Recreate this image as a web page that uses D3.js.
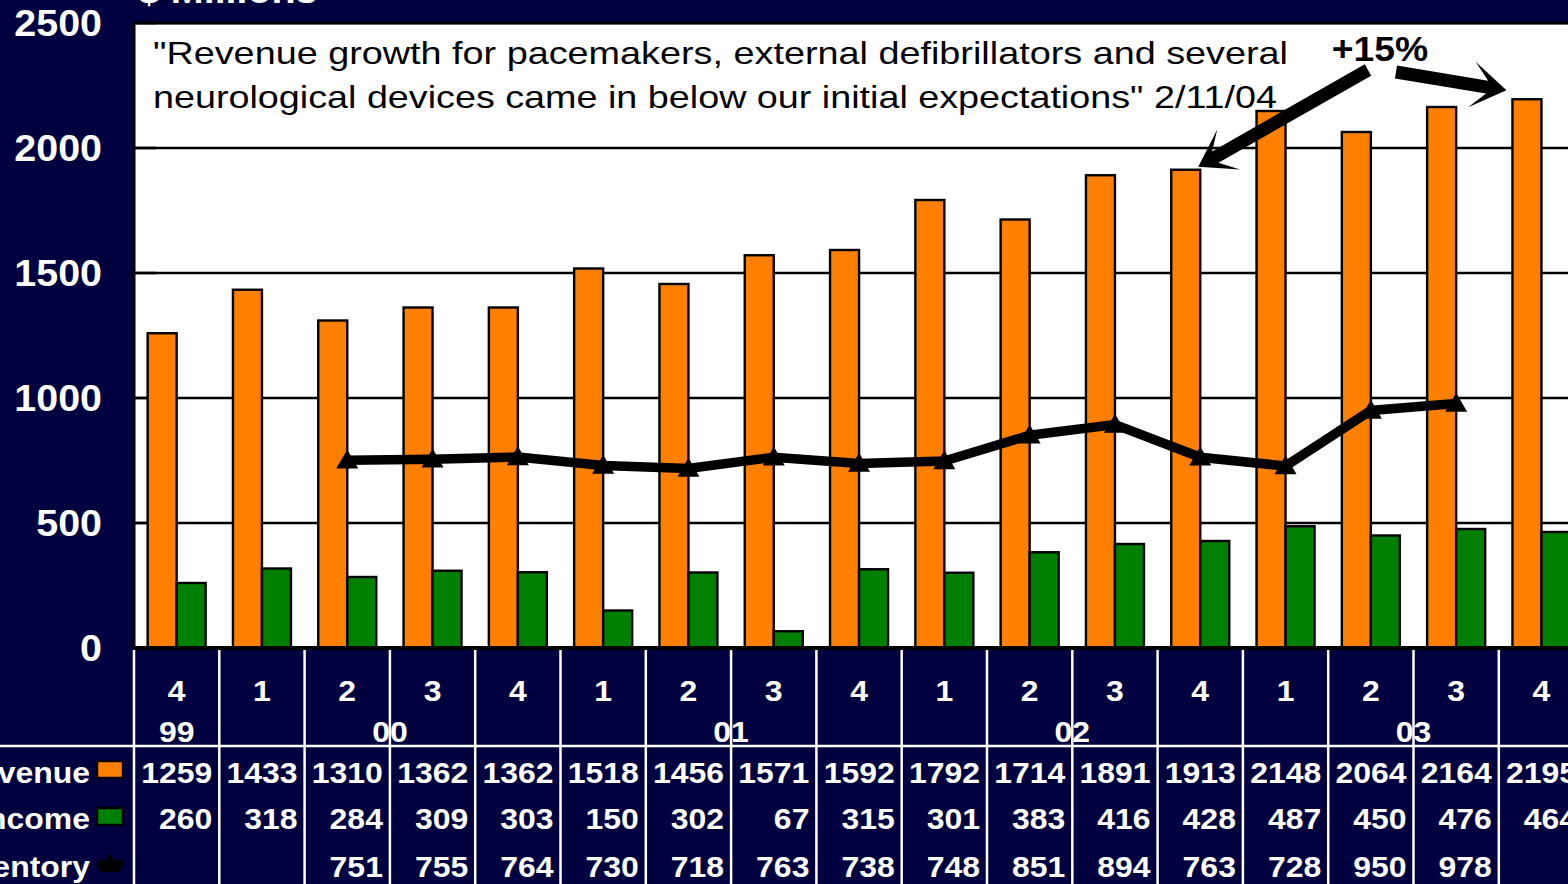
<!DOCTYPE html>
<html>
<head>
<meta charset="utf-8">
<script src="https://cdn.jsdelivr.net/npm/d3@7"></script>
<style>
  html, body { margin: 0; padding: 0; background: #000040; overflow: hidden; }
  svg { display: block; font-family: "Liberation Sans", Arial, sans-serif; }
</style>
</head>
<body>
<div id="chart"></div>
<script>
// quarters (category axis) and year groups
var quarters = ["4", "1", "2", "3", "4", "1", "2", "3", "4", "1", "2", "3", "4", "1", "2", "3", "4"];
var years = [
    {label: "99", first: 0, last: 0},
    {label: "00", first: 1, last: 4},
    {label: "01", first: 5, last: 8},
    {label: "02", first: 9, last: 12},
    {label: "03", first: 13, last: 16}
];
// series values ($ millions)
var revenue = [1259, 1433, 1310, 1362, 1362, 1518, 1456, 1571, 1592, 1792, 1714, 1891, 1913, 2148, 2064, 2164, 2195];
var income = [260, 318, 284, 309, 303, 150, 302, 67, 315, 301, 383, 416, 428, 487, 450, 476, 464];
var inventory = [null, null, 751, 755, 764, 730, 718, 763, 738, 748, 851, 894, 763, 728, 950, 978, null];
var yTicks = [0, 500, 1000, 1500, 2000, 2500];
var seriesNames = ["Revenue", "Net Income", "Inventory"];

var quoteLines = [
    "\"Revenue growth for pacemakers, external defibrillators and several",
    "neurological devices came in below our initial expectations\" 2/11/04"
];
var quoteWidths = [1135, 1124];

var width = 1568, height = 884;
var navy = "#000040", orange = "#ff8000", green = "#008000";
var stretch = 1.065; // the original lettering is a little wider than Arial

var svg = d3.select("#chart").append("svg")
    .attr("width", width)
    .attr("height", height);

svg.append("rect").attr("width", width).attr("height", height).attr("fill", navy);

// white, bold, slightly widened label at (x, y)
function label(sel, x, y, size) {
    return sel.attr("transform", function(d, i) {
            var xx = typeof x === "function" ? x(d, i) : x;
            var yy = typeof y === "function" ? y(d, i) : y;
            return `translate(${xx},${yy}) scale(${stretch},1)`;
        })
        .attr("fill", "white").attr("font-weight", "bold").attr("font-size", size);
}

// plot geometry
var plotLeft = 134, step = 85.3, plotTop = 23, plotBottom = 648;
var idx = d3.range(quarters.length);

// one cell per quarter (used by the table), bars inside it
var cell = d3.scaleBand().domain(idx).range([plotLeft, plotLeft + step * idx.length]);
var xBars = d3.scaleBand().domain(idx).range(cell.range()).paddingInner(0.32).paddingOuter(0.16);
var xSub = d3.scaleBand().domain(["rev", "inc"]).range([0, xBars.bandwidth()]);
var y = d3.scaleLinear().domain([0, 2500]).range([plotBottom, plotTop]);

// white plot area
svg.append("rect")
    .attr("x", plotLeft).attr("y", plotTop)
    .attr("width", width - plotLeft).attr("height", plotBottom - plotTop)
    .attr("fill", "white");

// horizontal grid lines
svg.selectAll("line.grid").data(yTicks.slice(1)).enter()
    .append("line")
    .attr("class", "grid")
    .attr("x1", plotLeft).attr("x2", width)
    .attr("y1", function(d) { return y(d); })
    .attr("y2", function(d) { return y(d); })
    .attr("stroke", "black")
    .attr("stroke-width", 2.5);

// short inward ticks on the value axis
svg.selectAll("line.tick").data(yTicks).enter()
    .append("line")
    .attr("x1", plotLeft).attr("x2", plotLeft + 22)
    .attr("y1", function(d) { return y(d); })
    .attr("y2", function(d) { return y(d); })
    .attr("stroke", "black")
    .attr("stroke-width", 2.5);

// bars
svg.selectAll("rect.rev").data(idx).enter()
    .append("rect")
    .attr("x", function(i) { return xBars(i) + xSub("rev"); })
    .attr("y", function(i) { return y(revenue[i]); })
    .attr("width", xSub.bandwidth())
    .attr("height", function(i) { return y(0) - y(revenue[i]); })
    .attr("fill", orange).attr("stroke", "black").attr("stroke-width", 2.4);

svg.selectAll("rect.inc").data(idx).enter()
    .append("rect")
    .attr("x", function(i) { return xBars(i) + xSub("inc"); })
    .attr("y", function(i) { return y(income[i]); })
    .attr("width", xSub.bandwidth())
    .attr("height", function(i) { return y(0) - y(income[i]); })
    .attr("fill", green).attr("stroke", "black").attr("stroke-width", 2.4);

// inventory line with triangle markers
var cx = function(i) { return cell(i) + cell.bandwidth() / 2; };
var line = d3.line()
    .defined(function(i) { return inventory[i] != null; })
    .x(cx)
    .y(function(i) { return y(inventory[i]); });
svg.append("path")
    .attr("d", line(idx))
    .attr("fill", "none").attr("stroke", "black")
    .attr("stroke-width", 9.5).attr("stroke-linejoin", "miter");

var tri = d3.symbol().type(d3.symbolTriangle).size(210);
svg.selectAll("path.marker").data(idx.filter(function(i) { return inventory[i] != null; })).enter()
    .append("path")
    .attr("d", tri)
    .attr("transform", function(i) { return `translate(${cx(i)},${y(inventory[i]) + 2})`; })
    .attr("fill", "black");

// axis lines
svg.append("line").attr("x1", plotLeft).attr("x2", plotLeft)
    .attr("y1", plotTop - 1).attr("y2", plotBottom)
    .attr("stroke", "black").attr("stroke-width", 3);
svg.append("line").attr("x1", plotLeft).attr("x2", width)
    .attr("y1", plotTop).attr("y2", plotTop)
    .attr("stroke", "black").attr("stroke-width", 3);
svg.append("line").attr("x1", plotLeft).attr("x2", width)
    .attr("y1", plotBottom).attr("y2", plotBottom)
    .attr("stroke", "black").attr("stroke-width", 4);

// y tick labels
label(svg.selectAll("text.ytick").data(yTicks).enter().append("text"),
        102, function(d) { return y(d) + 13; }, 37)
    .attr("text-anchor", "end")
    .text(function(d) { return d; });

// units title, mostly above the top edge
label(svg.append("text"), 138, 3, 37).text("$ Millions");

// quote
svg.selectAll("text.quote").data(quoteLines).enter()
    .append("text")
    .attr("x", 153)
    .attr("y", function(d, i) { return 64 + i * 44; })
    .attr("textLength", function(d, i) { return quoteWidths[i]; })
    .attr("lengthAdjust", "spacingAndGlyphs")
    .attr("fill", "black").attr("font-size", 31.5)
    .text(function(d) { return d; });

// +15% annotation with two arrows to the compared bars
svg.append("text")
    .attr("transform", `translate(1380,61) scale(${stretch},1)`)
    .attr("text-anchor", "middle")
    .attr("fill", "black").attr("font-weight", "bold").attr("font-size", 35)
    .text("+15%");

function arrowPath(x0, y0, x1, y1, shaft, headLen, headW) {
    var dx = x1 - x0, dy = y1 - y0, len = Math.sqrt(dx * dx + dy * dy);
    var ux = dx / len, uy = dy / len, nx = -uy, ny = ux;
    var pt = function(a, b) { return [x0 + ux * a + nx * b, y0 + uy * a + ny * b]; };
    var pts = [
        pt(0, -shaft / 2), pt(len - headLen * 0.7, -shaft / 2),
        pt(len - headLen * 1.25, -headW / 2), pt(len, 0),
        pt(len - headLen * 1.25, headW / 2), pt(len - headLen * 0.7, shaft / 2),
        pt(0, shaft / 2)
    ];
    return "M" + pts.map(function(p) { return p.join(","); }).join("L") + "Z";
}
var a1End = [xBars(12) + xSub("inc") - 2, y(revenue[12]) - 3];
var a2End = [xBars(16) - 6, y(revenue[16]) - 9];
svg.append("path").attr("d", arrowPath(1368, 70, a1End[0], a1End[1], 13, 28, 46)).attr("fill", "black");
svg.append("path").attr("d", arrowPath(1396, 72, a2End[0], a2End[1], 13, 28, 46)).attr("fill", "black");

// ---- data table ----
var headerBottom = 746;
var valueFont = 30;

label(svg.selectAll("text.quarter").data(idx).enter().append("text"), cx, 701, valueFont)
    .attr("text-anchor", "middle")
    .text(function(i) { return quarters[i]; });

label(svg.selectAll("text.year").data(years).enter().append("text"),
        function(d) { return (cell(d.first) + cell(d.last) + cell.bandwidth()) / 2; }, 742, valueFont)
    .attr("text-anchor", "middle")
    .text(function(d) { return d.label; });

var rows = [revenue, income, inventory];
var rowBase = [783, 829, 877];
rows.forEach(function(values, r) {
    label(svg.selectAll("text.row" + r).data(idx.filter(function(i) { return values[i] != null; })).enter().append("text"),
            function(i) { return cell(i) + cell.bandwidth() - 7; }, rowBase[r], valueFont)
        .attr("text-anchor", "end")
        .text(function(i) { return values[i]; });

    label(svg.append("text"), 90, rowBase[r], valueFont)
        .attr("text-anchor", "end")
        .text(seriesNames[r]);
});

// legend keys in the table
svg.append("rect").attr("x", 97).attr("y", 761).attr("width", 26).attr("height", 17)
    .attr("fill", orange).attr("stroke", "black").attr("stroke-width", 2.5);
svg.append("rect").attr("x", 97).attr("y", 808).attr("width", 26).attr("height", 17)
    .attr("fill", green).attr("stroke", "black").attr("stroke-width", 2.5);
svg.append("line").attr("x1", 97).attr("x2", 123).attr("y1", 864).attr("y2", 864)
    .attr("stroke", "black").attr("stroke-width", 9);
svg.append("path").attr("d", tri).attr("transform", "translate(110,866)").attr("fill", "black");

// table grid lines (drawn over the year labels, as in the original)
svg.append("line").attr("x1", 0).attr("x2", width)
    .attr("y1", headerBottom).attr("y2", headerBottom)
    .attr("stroke", "white").attr("stroke-width", 2.5);
svg.selectAll("line.cellsep").data(d3.range(quarters.length + 1)).enter()
    .append("line")
    .attr("x1", function(i) { return plotLeft + i * cell.step(); })
    .attr("x2", function(i) { return plotLeft + i * cell.step(); })
    .attr("y1", plotBottom + 2).attr("y2", height)
    .attr("stroke", "white").attr("stroke-width", 2.5);
</script>
</body>
</html>
